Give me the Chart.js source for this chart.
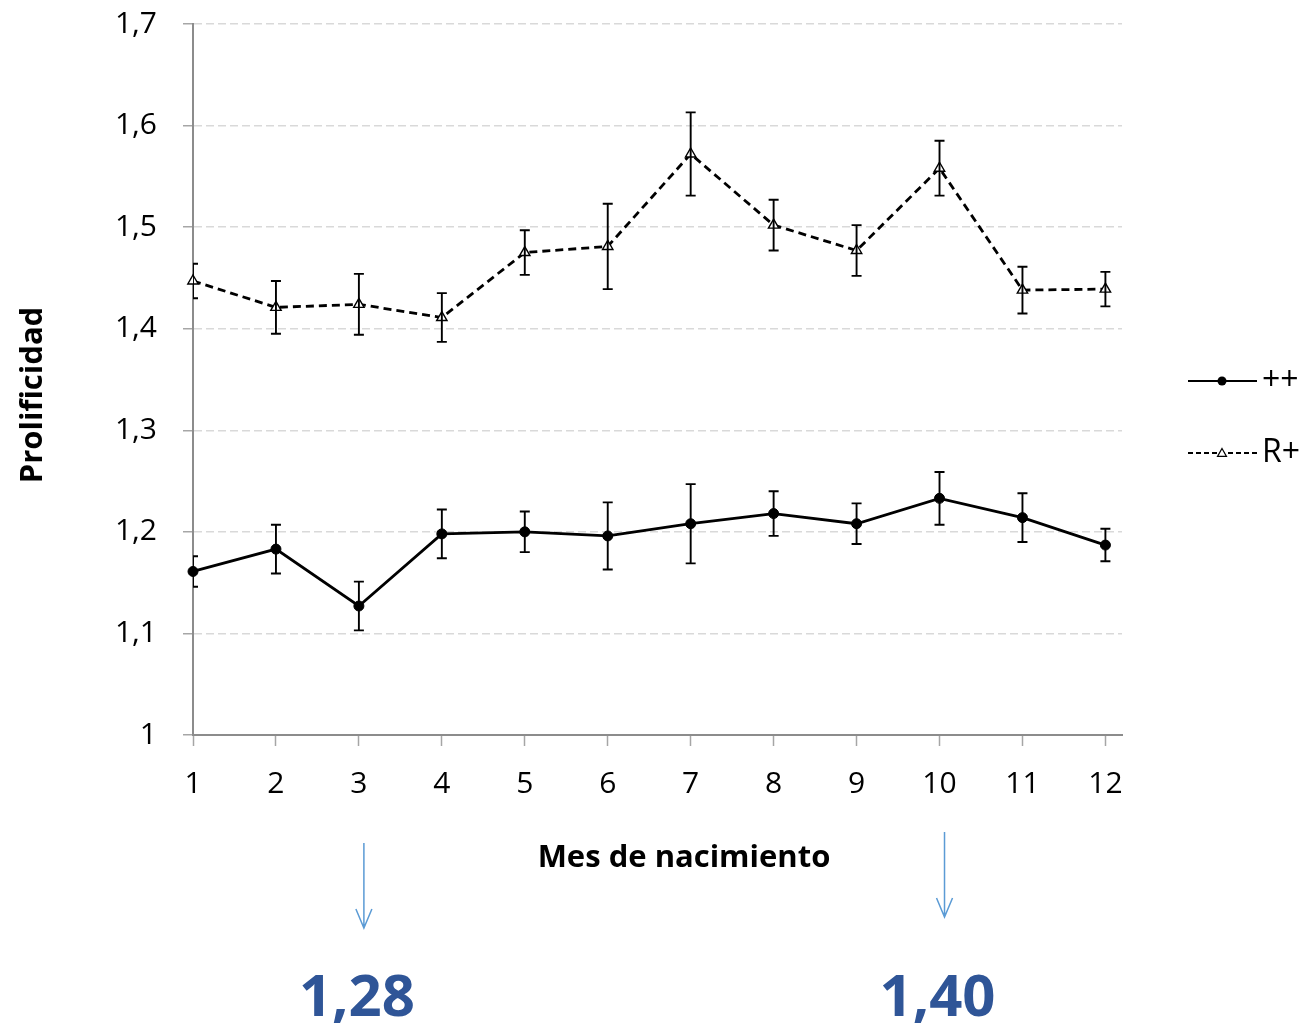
<!DOCTYPE html>
<html>
<head>
<meta charset="utf-8">
<title>Prolificidad por mes de nacimiento</title>
<script src="https://cdn.jsdelivr.net/npm/chart.js@4.4.1/dist/chart.umd.min.js"></script>
<style>
  html, body { margin: 0; padding: 0; background: #ffffff; }
  #wrap { width: 1304px; height: 1026px; position: relative; }
</style>
</head>
<body>
<div id="wrap"><canvas id="chart" width="1304" height="1026"></canvas></div>
<script>
// Birth month categories
const months = ['1', '2', '3', '4', '5', '6', '7', '8', '9', '10', '11', '12'];

// Prolificacy by birth month, genotype ++
const prolifPP = [1.161, 1.183, 1.127, 1.198, 1.200, 1.196, 1.208, 1.218, 1.208, 1.233, 1.214, 1.187];
const errPP    = [0.015, 0.024, 0.024, 0.024, 0.020, 0.033, 0.039, 0.022, 0.020, 0.026, 0.024, 0.016];

// Prolificacy by birth month, genotype R+
const prolifRP = [1.447, 1.421, 1.424, 1.411, 1.475, 1.481, 1.572, 1.502, 1.477, 1.558, 1.438, 1.439];
const errRP    = [0.017, 0.026, 0.030, 0.024, 0.022, 0.042, 0.041, 0.025, 0.025, 0.027, 0.023, 0.017];

// Y axis ticks
const yTickValues = [1, 1.1, 1.2, 1.3, 1.4, 1.5, 1.6, 1.7];
const yTickLabels = ['1', '1,1', '1,2', '1,3', '1,4', '1,5', '1,6', '1,7'];

// Series names
const seriesNames = ['++', 'R+'];

// Callouts below the axis
const calloutMonths = ['3', '10'];
const calloutTexts = ['1,28', '1,40'];

const FONT = "'Open Sans', 'Noto Sans', sans-serif";
const AXIS_GREY = '#8c8c8c';

const toPoints = (vals) => vals.map((v, i) => ({ x: Number(months[i]), y: v }));

// Vertical error bars with caps, drawn through the chart scales
const errorBars = {
  id: 'errorBars',
  afterDatasetsDraw(chart) {
    const { ctx, chartArea, scales: { x, y } } = chart;
    ctx.save();
    ctx.beginPath();
    ctx.rect(chartArea.left, chartArea.top - 20, chartArea.right - chartArea.left, chartArea.bottom - chartArea.top + 20);
    ctx.clip();
    ctx.strokeStyle = '#000000';
    ctx.lineWidth = 1.9;
    chart.data.datasets.forEach((ds) => {
      const errs = ds.errors;
      if (!errs) return;
      ds.data.forEach((p, i) => {
        const px = x.getPixelForValue(p.x);
        const top = y.getPixelForValue(p.y + errs[i]);
        const bot = y.getPixelForValue(p.y - errs[i]);
        const cap = 5;
        ctx.beginPath();
        ctx.moveTo(px, top); ctx.lineTo(px, bot);
        ctx.moveTo(px - cap, top); ctx.lineTo(px + cap, top);
        ctx.moveTo(px - cap, bot); ctx.lineTo(px + cap, bot);
        ctx.stroke();
      });
    });
    ctx.restore();
  }
};

// Axis titles, legend and the callouts under the chart
const decorations = {
  id: 'decorations',
  afterDraw(chart) {
    const { ctx, scales: { x } } = chart;
    ctx.save();

    // Axis titles
    ctx.fillStyle = '#000000';
    ctx.font = "bold 31px " + FONT;
    ctx.textAlign = 'center';
    ctx.textBaseline = 'middle';
    ctx.fillText('Mes de nacimiento', 684, 858);
    ctx.save();
    ctx.translate(33, 395);
    ctx.rotate(-Math.PI / 2);
    ctx.fillText('Prolificidad', 0, 0);
    ctx.restore();

    // Legend
    const legendY = [381, 453];
    chart.data.datasets.forEach((ds, i) => {
      const ly = legendY[i];
      ctx.strokeStyle = '#000000';
      ctx.lineWidth = 2.2;
      ctx.setLineDash(ds.borderDash && ds.borderDash.length ? [5, 3] : []);
      ctx.beginPath();
      ctx.moveTo(1188, ly); ctx.lineTo(1257, ly);
      ctx.stroke();
      ctx.setLineDash([]);
      const mx = 1222;
      if (ds.pointStyle === 'triangle') {
        const r = 4.5;
        ctx.fillStyle = '#ffffff';
        ctx.lineWidth = 1.2;
        ctx.beginPath();
        ctx.moveTo(mx, ly - r);
        ctx.lineTo(mx + r, ly + r * 0.75);
        ctx.lineTo(mx - r, ly + r * 0.75);
        ctx.closePath();
        ctx.fill();
        ctx.stroke();
      } else {
        ctx.fillStyle = '#000000';
        ctx.beginPath();
        ctx.arc(mx, ly, 4.5, 0, Math.PI * 2);
        ctx.fill();
      }
      ctx.fillStyle = '#000000';
      ctx.font = "32px " + FONT;
      ctx.textAlign = 'left';
      ctx.textBaseline = 'middle';
      ctx.fillText(ds.label, 1262, ly);
    });

    // Callouts: arrow pointing at the month and the value below it
    const arrowTops = [843, 832];
    calloutMonths.forEach((m, i) => {
      const cx = x.getPixelForValue(Number(m));
      const ax = cx + 5;
      const t = arrowTops[i];
      const b = t + 85;
      ctx.strokeStyle = '#5b9bd5';
      ctx.lineWidth = 1.5;
      ctx.beginPath();
      ctx.moveTo(ax, t); ctx.lineTo(ax, b);
      ctx.moveTo(ax - 8, b - 19); ctx.lineTo(ax, b); ctx.lineTo(ax + 8, b - 19);
      ctx.stroke();

      ctx.fillStyle = '#2f5597';
      ctx.font = "bold 58px " + FONT;
      ctx.textAlign = 'center';
      ctx.textBaseline = 'alphabetic';
      ctx.fillText(calloutTexts[i], cx - 2, 1016);
    });

    ctx.restore();
  }
};

new Chart(document.getElementById('chart'), {
  type: 'line',
  data: {
    labels: months,
    datasets: [
      {
        label: seriesNames[0],
        data: toPoints(prolifPP),
        errors: errPP,
        borderColor: '#000000',
        borderWidth: 2.8,
        pointStyle: 'circle',
        pointRadius: 5,
        pointBackgroundColor: '#000000',
        pointBorderColor: '#000000',
        pointBorderWidth: 1,
        tension: 0,
        clip: false
      },
      {
        label: seriesNames[1],
        data: toPoints(prolifRP),
        errors: errRP,
        borderColor: '#000000',
        borderWidth: 2.8,
        borderDash: [8, 5],
        pointStyle: 'triangle',
        pointRadius: 6,
        pointBackgroundColor: '#ffffff',
        pointBorderColor: '#000000',
        pointBorderWidth: 1.4,
        tension: 0,
        clip: false
      }
    ]
  },
  options: {
    responsive: false,
    devicePixelRatio: 1,
    animation: false,
    events: [],
    layout: { padding: { top: 24, right: 182, bottom: 0, left: 0 } },
    plugins: {
      legend: { display: false },
      tooltip: { enabled: false },
      title: { display: false }
    },
    scales: {
      x: {
        type: 'linear',
        min: 1,
        max: 12.2,
        afterBuildTicks(scale) {
          scale.ticks = months.map((m) => ({ value: Number(m) }));
        },
        afterFit(scale) {
          scale.height = 291;
          scale.paddingLeft = 0;
          scale.paddingRight = 0;
        },
        ticks: {
          autoSkip: false,
          maxRotation: 0,
          padding: 20,
          color: '#000000',
          font: { family: FONT, size: 30 },
          callback: (v) => months[months.indexOf(String(v))] ?? ''
        },
        grid: {
          drawOnChartArea: false,
          drawTicks: true,
          tickLength: 11,
          tickColor: '#a6a6a6',
          tickWidth: 1.5
        },
        border: { color: AXIS_GREY, width: 2 }
      },
      y: {
        min: 1,
        max: 1.7,
        afterBuildTicks(scale) {
          scale.ticks = yTickValues.map((v) => ({ value: v }));
        },
        afterFit(scale) {
          scale.width = 193;
          scale.paddingTop = 0;
          scale.paddingBottom = 0;
        },
        ticks: {
          padding: 26,
          color: '#000000',
          font: { family: FONT, size: 30 },
          callback: (v, i) => yTickLabels[i]
        },
        grid: {
          color: '#d9d9d9',
          lineWidth: 1.5,
          tickBorderDash: [],
          drawTicks: true,
          tickLength: 10,
          tickColor: '#a6a6a6',
          tickWidth: 1.5
        },
        border: { color: AXIS_GREY, width: 2, dash: [8, 4] }
      }
    }
  },
  plugins: [errorBars, decorations]
});
</script>
</body>
</html>
